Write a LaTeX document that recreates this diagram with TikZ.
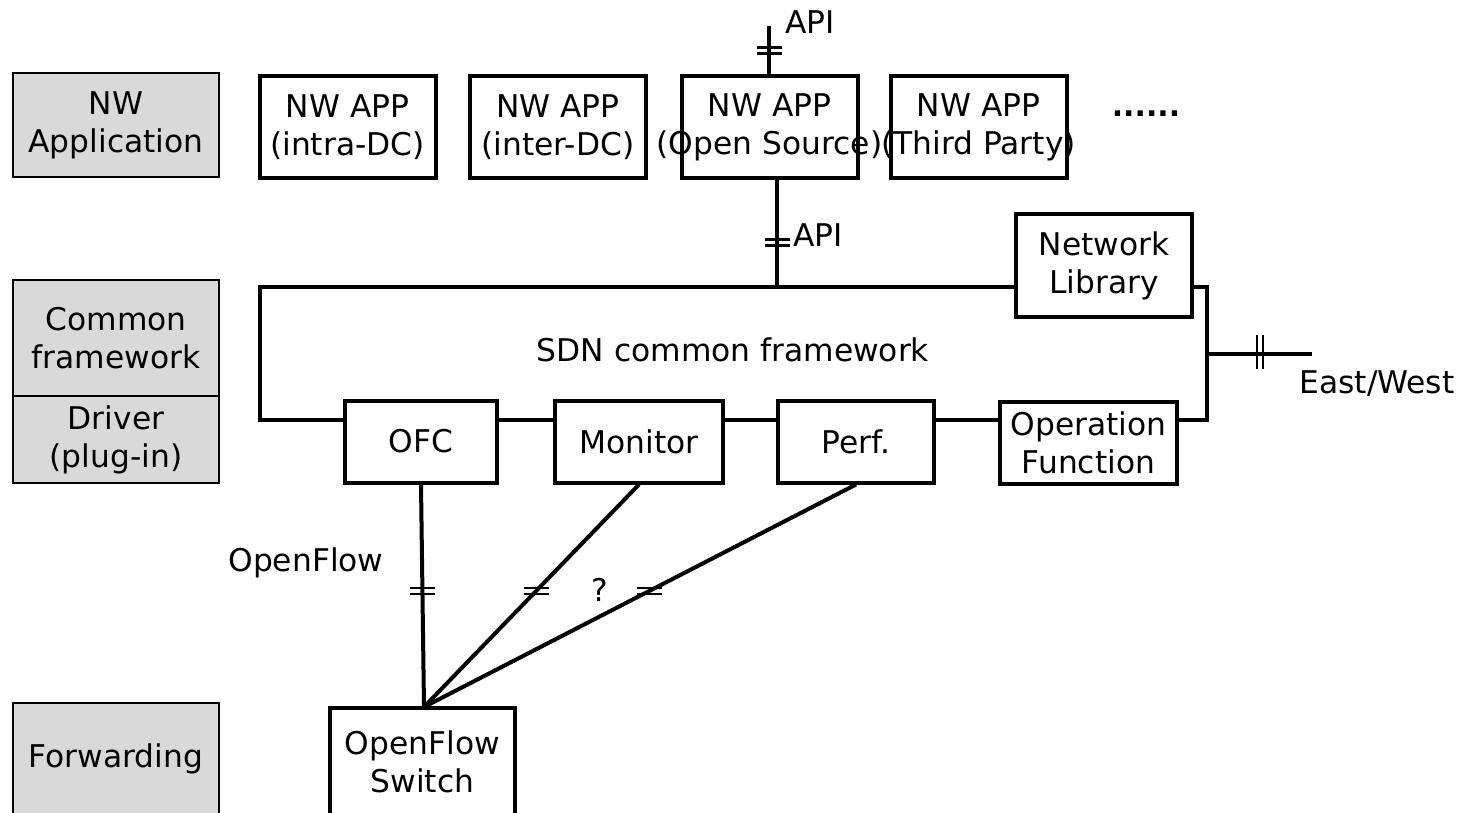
\documentclass[tikz,border=0pt]{standalone}
\usepackage{fontspec}
\setmainfont{DejaVu Sans}
\usetikzlibrary{calc}
\definecolor{layergray}{HTML}{D9D9D9}
% zero-width line so long labels stay centred on the box
\newcommand\zw[1]{\makebox[0pt]{#1}}
% pair of short horizontal interface marks centred on a point
\newcommand\hmarks[1]{\draw[ifmark] ($(#1)+(-12.5,-3)$) -- ++(25,0) ($(#1)+(-12.5,3)$) -- ++(25,0);}
\begin{document}
\begin{tikzpicture}[x=1pt,y=-1pt,
  txt/.style={font=\fontsize{31.3}{38}\selectfont, inner sep=0pt, align=center},
  layer/.style={txt, draw, line width=1.5pt, fill=layergray, minimum width=206pt},
  part/.style={txt, draw, line width=4pt, fill=white},
  appbox/.style={part, minimum width=176pt, minimum height=102pt},
  fnbox/.style={part, minimum height=82pt},
  wire/.style={line width=4pt},
  ifmark/.style={line width=2.5pt}]
\useasboundingbox (0,0) rectangle (1484,813);
\clip (0,0) rectangle (1484,813);

% layer column
\node[layer, minimum height=104pt] (lApp)    at (116,125)   {NW\\Application};
\node[layer, minimum height=116pt] (lCommon) at (116,338)   {Common\\framework};
\node[layer, minimum height=87pt]  (lDriver) at (116,439.5) {Driver\\(plug-in)};
\node[layer, minimum height=112pt] (lFwd)    at (116,759)   {Forwarding};

% applications
\node[appbox] (appIntra) at (347.5,127) {NW APP\\(intra-DC)};
\node[appbox] (appInter) at (558,127)   {NW APP\\(inter-DC)};
\node[appbox] (appOpen)  at (769.5,127) {\zw{NW APP}\\\zw{(Open Source)}};
\node[appbox] (appThird) at (978.5,127) {\zw{NW APP}\\\zw{(Third Party)}};
\node[txt, font=\fontsize{30}{37}\bfseries, anchor=base] (more) at (1146,117) {......};

% framework parts
\node[appbox, minimum height=103pt] (netlib) at (1104,265.5) {Network\\Library};
\node[fnbox, minimum width=152pt] (ofc)  at (421,441.5)  {OFC};
\node[fnbox, minimum width=168pt] (mon)  at (639,441.5)  {Monitor};
\node[fnbox, minimum width=156pt] (perf) at (856,441.5)  {Perf.};
\node[fnbox, minimum width=177pt] (opf)  at (1088.5,443) {Operation\\Function};
\node[txt] (sdn) at (733,350) {SDN common framework};

% switch
\node[part, minimum width=185pt, minimum height=107pt] (sw) at (422.5,761.5) {OpenFlow\\Switch};

% northbound API above the open source application
\coordinate (apiEnd) at (769,26);
\draw[wire] (apiEnd) -- (apiEnd |- appOpen.north);
\coordinate (apiTopMark) at (769.5,50.5);
\hmarks{apiTopMark}
\node[txt] (apiTop) at (810,22) {API};

% framework bus
\coordinate (busTop) at (777,287);
\coordinate (busLow) at (260,420);
\coordinate (busRight) at (1207,420);
\draw[wire] (busTop |- appOpen.south) -- (busTop);
\coordinate (apiMidMark) at (777.5,242.5);
\hmarks{apiMidMark}
\node[txt] (apiMid) at (818,235) {API};

\draw[wire] (netlib.west |- busTop) -- (busLow |- busTop) -- (busLow) -- (ofc.west |- busLow);
\draw[wire] (ofc.east |- busLow) -- (mon.west |- busLow);
\draw[wire] (mon.east |- busLow) -- (perf.west |- busLow);
\draw[wire] (perf.east |- busLow) -- (opf.west |- busLow);
\draw[wire] (opf.east |- busLow) -- (busRight) -- (busRight |- busTop) -- (netlib.east |- busTop);

% east/west interface
\coordinate (ewStart) at (1207,354);
\coordinate (ewEnd) at (1312,354);
\draw[wire] (ewStart) -- (ewEnd);
\draw[ifmark] (1257,335) -- (1257,369) (1263,335) -- (1263,369);
\node[txt] (ew) at (1377,384) {East/West};

% southbound links to the switch
\coordinate (hub) at (424,707);
\draw[wire] (ofc.south) -- (hub);
\draw[wire] (mon.south) -- (hub);
\draw[wire] (perf.south) -- (hub);
\coordinate (m1) at ($(ofc.south)!0.478!(hub)$);
\coordinate (m2) at ($(mon.south)!0.478!(hub)$);
\coordinate (m3) at ($(perf.south)!0.478!(hub)$);
\hmarks{m1}
\hmarks{m2}
\hmarks{m3}
\node[txt] (of) at (306,563) {OpenFlow};
\node[txt] (q) at (600,590) {?};
\end{tikzpicture}
\end{document}
